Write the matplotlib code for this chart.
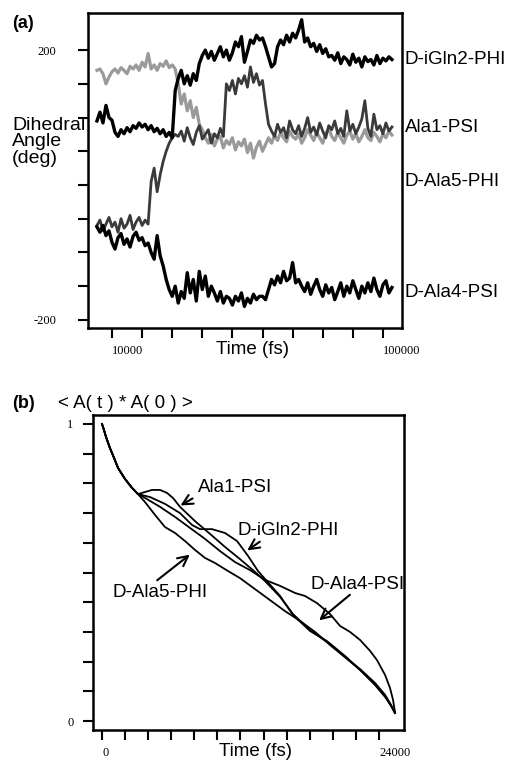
import numpy as np
import matplotlib.pyplot as plt

plt.rcParams['font.family'] = ['Liberation Sans', 'DejaVu Sans']

# ---- panel (a) : dihedral angles vs time (one sample every 1000 fs, 5000 -> 103000)
t_a = np.arange(5000, 104000, 1000)

gln2_phi = [95, 108, 92, 118, 100, 96,
            78, 72, 82, 76, 85, 79, 88, 84, 92, 86, 90, 82, 88, 79, 84, 76, 82, 72, 78, 70,
            140,
            158, 170, 150, 162, 148, 165, 155,
            180, 192, 200, 188, 198, 185, 195, 205, 190, 200, 185, 196,
            212, 205, 220, 182, 198, 215, 210,
            222, 215, 218, 205, 190, 175,
            180,
            205, 215, 208, 222, 212, 225, 218, 230,
            245,
            212, 218, 205, 210, 198, 208, 195, 202, 190,
            192, 185, 196, 180, 190, 186, 178, 194, 182, 188, 175, 190, 183, 186, 178, 192,
            180, 188, 184, 190, 186]

ala1_psi = [170, 172, 165, 150, 160, 168, 172, 166, 174, 170, 165, 176, 172, 178, 170, 182,
            175, 195, 172, 178, 170, 180, 176, 184, 174, 178, 172,
            150, 120, 135, 110, 125, 100, 115, 90, 82,
            70, 62, 75, 58, 68, 72, 55, 66, 60, 70,
            52, 64, 58, 68, 48, 62, 40, 56, 65, 50,
            60, 70, 62, 74, 66, 78, 70, 64, 80, 72,
            68, 76, 62, 70, 82, 74, 66, 78, 70, 62,
            76, 84, 72, 66, 78, 70, 62, 74, 80, 68,
            76, 64, 72, 82, 70, 66, 78, 72, 64, 76,
            70, 80, 74]

ala5_phi = [-60, -52, -68, -58, -48, -62, -55, -70, -50, -64, -58, -45, -66, -55, -48, -60, -52, -58,
            5, 25, -10, 15, 35, 50, 62, 70, 75,
            72, 80, 65, 85, 70, 60, 78, 88, 68, 75, 82, 62, 76, 70, 84, 72,
            150, 140, 155, 135, 158, 150, 162, 145, 175, 152, 165, 148, 155,
            120, 90,
            80, 72, 90, 78, 85, 70, 95, 82, 76, 88, 72, 84, 100, 78, 86, 74, 92, 80, 70, 88,
            82, 95, 76, 84, 72, 110, 80, 90, 76, 86, 98, 125, 84, 72, 105, 82, 88, 76, 92, 80, 86]

ala4_psi = [-62, -70, -60, -75, -68, -85, -95, -78, -72, -88, -80, -92, -76, -70, -82, -78, -90, -86,
            -100, -110, -75, -105, -120, -140, -155,
            -165, -150, -175, -158, -168,
            -130, -160, -140, -172, -128, -155, -135, -165, -150,
            -160, -172, -158, -175, -165, -168,
            -178, -165, -172, -160, -180, -168, -175, -162, -170, -165,
            -165, -170, -155, -140, -148, -135, -145, -128, -142, -138, -115, -145, -140,
            -150, -158, -145, -162, -150, -140, -155, -165, -148, -160, -152, -170, -158, -145,
            -165, -150, -160, -142, -155, -168, -150, -160, -145, -158, -138, -155, -165, -148,
            -142, -160, -152]

# ---- panel (b) : autocorrelation curves
head_t = [0, 170, 350, 690, 1040, 1390, 1990, 2600, 3120]
head_v = [1.0, 0.98, 0.956, 0.919, 0.886, 0.852, 0.815, 0.785, 0.764]

ala1_t = head_t + [3730, 4330, 5030, 5630, 6150, 6760, 8060, 9360, 10660, 11960, 13260, 14130,
                   15430, 16550, 18030, 19500, 21060, 22360, 23660, 24530, 25050, 25390]
ala1_v = head_v + [0.771, 0.778, 0.778, 0.768, 0.751, 0.721, 0.673, 0.630, 0.586, 0.545, 0.502,
                   0.471, 0.418, 0.360, 0.306, 0.266, 0.215, 0.175, 0.128, 0.088, 0.054, 0.027]

gln2_t = head_t + [4160, 5460, 6760, 7800, 8490, 9530, 10660, 11700, 12650, 13520, 14130,
                   15430, 16550, 18030, 19500, 21060, 22360, 23660, 24530, 25050, 25390]
gln2_v = head_v + [0.754, 0.731, 0.700, 0.660, 0.646, 0.646, 0.633, 0.606, 0.556, 0.505, 0.478,
                   0.421, 0.357, 0.303, 0.269, 0.219, 0.172, 0.121, 0.081, 0.051, 0.027]

ala5_t = head_t + [3730, 4590, 5460, 6330, 7190, 8060, 8930, 9790, 10920, 11960, 13260, 14560,
                   15860, 17160, 18460, 19760, 21060, 22360, 23660, 24530, 25050, 25390]
ala5_v = head_v + [0.737, 0.694, 0.653, 0.633, 0.606, 0.576, 0.549, 0.532, 0.505, 0.481, 0.444,
                   0.407, 0.370, 0.337, 0.300, 0.256, 0.215, 0.172, 0.125, 0.084, 0.051, 0.027]

ala4_t = head_t + [3730, 5030, 6330, 7630, 8930, 10230, 11530, 12830, 14130, 15430, 16730, 17590,
                   18630, 19760, 20630, 21490, 22360, 23230, 23830, 24530, 24960, 25220, 25390]
ala4_v = head_v + [0.751, 0.721, 0.687, 0.650, 0.613, 0.572, 0.535, 0.508, 0.475, 0.455, 0.431,
                   0.421, 0.397, 0.360, 0.320, 0.300, 0.273, 0.236, 0.205, 0.155, 0.111, 0.071, 0.030]

W, H = 509, 761
fig = plt.figure(figsize=(W / 100, H / 100), dpi=100)

def style_axes(ax):
    for s in ax.spines.values():
        s.set_linewidth(1.8)
    ax.tick_params(direction='out', length=7, width=1.5)
    for lab in ax.get_xticklabels() + ax.get_yticklabels():
        lab.set_family(['Liberation Serif', 'DejaVu Serif'])
        lab.set_fontsize(9)
    for lab in ax.get_xticklabels():
        lab.set_ha('left')

# ---------------- (a)
ax1 = fig.add_axes([88 / W, 1 - 328 / H, 314 / W, 315 / H])
ax1.plot(t_a, ala1_psi, color='#9a9a9a', lw=2.3)
ax1.plot(t_a, ala5_phi, color='#3a3a3a', lw=2.0)
ax1.plot(t_a, gln2_phi, color='black', lw=2.4)
ax1.plot(t_a, ala4_psi, color='black', lw=2.4)
ax1.set_xlim(2030, 106340)
ax1.set_ylim(-212, 255)
ax1.set_xticks(np.arange(10000, 100001, 10000))
ax1.set_xticklabels(['10000'] + [''] * 8 + ['100000'])
ax1.set_yticks(np.arange(-200, 201, 50))
ax1.set_yticklabels(['-200'] + [''] * 7 + ['200'])
ax1.tick_params(axis='y', pad=16)
ax1.tick_params(axis='x', pad=5)
style_axes(ax1)
fig.text(252 / W, 1 - 349 / H, 'Time (fs)', fontsize=13.5, va='center', ha='center')

fig.text(12 / W, 1 - 23 / H, '(a)', fontsize=13, fontweight='bold', va='center')
fig.text(12 / W, 1 - 117 / H, 'Dihedral\nAngle\n(deg)', fontsize=14, va='top', ha='left',
         linespacing=0.95)
for lbl, yp in [('D-iGln2-PHI', 60), ('Ala1-PSI', 128), ('D-Ala5-PHI', 182), ('D-Ala4-PSI', 292)]:
    fig.text(405 / W, 1 - yp / H, lbl, fontsize=13.5, va='center', ha='left')

# ---------------- (b)
ax2 = fig.add_axes([93 / W, 1 - 730 / H, 311 / W, 315 / H])
for tt, vv in [(ala1_t, ala1_v), (gln2_t, gln2_v), (ala5_t, ala5_v), (ala4_t, ala4_v)]:
    ax2.plot(tt, vv, color='black', lw=1.3)
ax2.set_xlim(-780, 26170)
ax2.set_ylim(-0.0303, 1.0303)
ax2.set_xticks(np.arange(0, 24001, 2000))
ax2.set_xticklabels(['0'] + [''] * 11 + ['24000'])
ax2.set_yticks(np.arange(0, 1.01, 0.1))
ax2.set_yticklabels(['0'] + [''] * 9 + ['1'])
ax2.tick_params(axis='y', pad=7)
ax2.tick_params(axis='x', pad=5)
style_axes(ax2)
fig.text(256 / W, 1 - 751 / H, 'Time (fs)', fontsize=13.5, va='center', ha='center')

arrows = [('Ala1-PSI', (6590, 0.721), (8060, 0.754), (8320, 0.785)),
          ('D-iGln2-PHI', (12390, 0.569), (13870, 0.609), (11700, 0.643)),
          ('D-Ala5-PHI', (7800, 0.566), (4590, 0.468), (950, 0.434)),
          ('D-Ala4-PSI', (18630, 0.333), (21670, 0.431), (18030, 0.458))]
for lbl, tip, tail, txt in arrows:
    ax2.annotate('', xy=tip, xytext=tail,
                 arrowprops=dict(arrowstyle='->', lw=1.5, color='black', mutation_scale=18))
    ax2.text(txt[0], txt[1], lbl, fontsize=13.5, va='center', ha='left')

fig.text(12 / W, 1 - 403 / H, '(b)', fontsize=13, fontweight='bold', va='center')
fig.text(58 / W, 1 - 403 / H, '< A( t ) * A( 0 ) >', fontsize=13.5, va='center', ha='left')

fig.savefig('out.png', dpi=100)
